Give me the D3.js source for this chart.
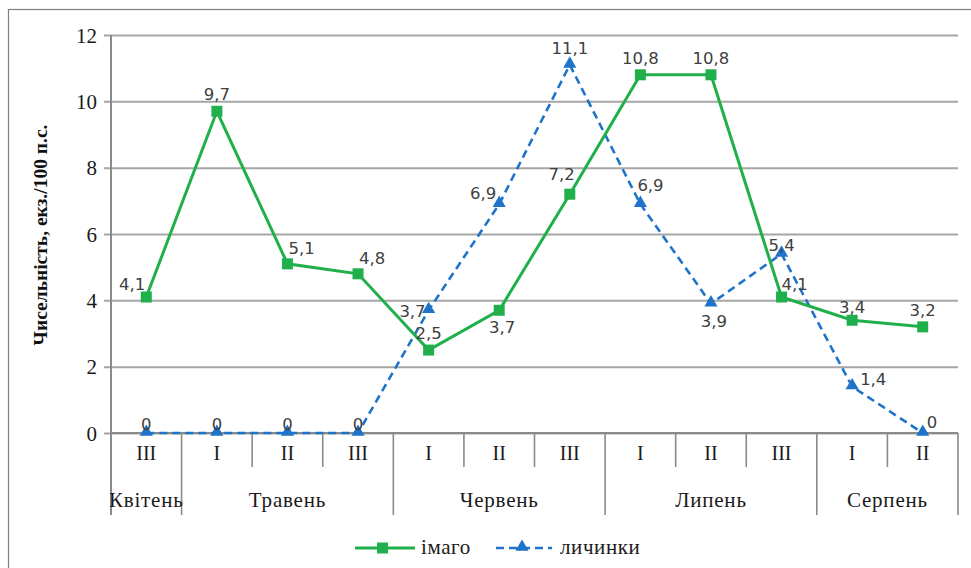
<!DOCTYPE html>
<html>
<head>
<meta charset="utf-8">
<script src="https://cdn.jsdelivr.net/npm/d3@7"></script>
<style>
  html, body { margin: 0; padding: 0; background: #fff; }
  svg { display: block; }
</style>
</head>
<body>
<svg id="chart" width="971" height="568"></svg>
<script>
// Ten-day periods (декади) and the months they belong to
const decades = ["III", "I", "II", "III", "I", "II", "III", "I", "II", "III", "I", "II"];
const months = [
  { name: "Квітень", span: 1 },
  { name: "Травень", span: 3 },
  { name: "Червень", span: 3 },
  { name: "Липень", span: 3 },
  { name: "Серпень", span: 2 }
];
const imago = [4.1, 9.7, 5.1, 4.8, 2.5, 3.7, 7.2, 10.8, 10.8, 4.1, 3.4, 3.2];
const larvae = [0, 0, 0, 0, 3.7, 6.9, 11.1, 6.9, 3.9, 5.4, 1.4, 0];
const yTicks = [0, 2, 4, 6, 8, 10, 12];
// where each value label sits relative to its marker
const imagoLabelSide = ["nw", "n", "ne", "ne", "n", "s", "nwHigh", "n", "n", "neLow", "nLow", "n"];
const larvaeLabelSide = ["nTight", "nTight", "nTight", "nTight", "sw", "w", "n", "neHigh", "s", "nTight", "e", "eLow"];

const svg = d3.select("#chart");
const plotL = 111, plotR = 958, plotT = 35, plotB = 433;
const serif = "'Liberation Serif', 'Times New Roman', serif";
const ink = "#1a1a1a";

// outer frame (runs off the right and bottom edges)
svg.append("rect").attr("x", 8.5).attr("y", 9.5).attr("width", 1000).attr("height", 600)
  .attr("fill", "none").attr("stroke", "#7f7f7f").attr("stroke-width", 1.2);

const x = d3.scaleBand().domain(d3.range(decades.length)).range([plotL, plotR]);
const y = d3.scaleLinear().domain([0, 12]).range([plotB, plotT]);

// horizontal gridlines with tick labels
const yAxis = d3.axisLeft(y).tickValues(yTicks).tickSize(plotR - plotL + 7).tickFormat(d3.format("d"));
const gy = svg.append("g").attr("transform", `translate(${plotR},0)`).call(yAxis);
gy.select(".domain").remove();
gy.selectAll(".tick line").attr("stroke", "#a6a6a6").attr("stroke-width", 2);
gy.selectAll(".tick text")
  .attr("x", -(plotR - plotL) - 14)
  .attr("dy", "0.34em")
  .attr("font-family", serif)
  .attr("font-size", 21).attr("fill", ink);

// vertical axis line, running down through the category rows
svg.append("line").attr("x1", plotL).attr("x2", plotL).attr("y1", plotT).attr("y2", 515)
  .attr("stroke", "#8a8a8a").attr("stroke-width", 2);

// baseline
svg.append("line").attr("x1", plotL).attr("x2", plotR).attr("y1", plotB).attr("y2", plotB)
  .attr("stroke", "#8a8a8a").attr("stroke-width", 2);

// decade separators
const catRows = svg.append("g");
d3.range(1, decades.length + 1).forEach(i => {
  const xx = i < decades.length ? x(i) : plotR;
  catRows.append("line").attr("x1", xx).attr("x2", xx).attr("y1", plotB).attr("y2", 467)
    .attr("stroke", "#8a8a8a").attr("stroke-width", 1.6);
});
// month separators and names
let acc = 0;
months.forEach(m => {
  const start = acc, end = acc + m.span;
  acc = end;
  const x0 = x(start), x1 = end < decades.length ? x(end) : plotR;
  catRows.append("line").attr("x1", x1).attr("x2", x1).attr("y1", 467).attr("y2", 515)
    .attr("stroke", "#8a8a8a").attr("stroke-width", 1.6);
  catRows.append("text").attr("x", (x0 + x1) / 2).attr("y", 507)
    .attr("text-anchor", "middle")
    .attr("font-family", serif).attr("font-size", 21).attr("letter-spacing", 0.8).attr("fill", ink)
    .text(m.name);
});
catRows.selectAll(".dec").data(decades).join("text")
  .attr("x", (d, i) => x(i) + x.bandwidth() / 2).attr("y", 460)
  .attr("text-anchor", "middle")
  .attr("font-family", serif).attr("font-size", 20).attr("fill", ink)
  .text(d => d);

// y-axis title
svg.append("text")
  .attr("transform", "translate(47,235) rotate(-90)")
  .attr("text-anchor", "middle")
  .attr("font-family", serif).attr("font-weight", "bold")
  .attr("font-size", 19.5).attr("fill", "#111")
  .text("Чисельність, екз./100 п.с.");

const green = "#20b04b", blue = "#1f73c8";
const cx = i => x(i) + x.bandwidth() / 2;
const line = d3.line().x((d, i) => cx(i)).y(d => y(d));

// larvae series
svg.append("path").datum(larvae).attr("d", line).attr("fill", "none")
  .attr("stroke", blue).attr("stroke-width", 2.6).attr("stroke-dasharray", "8,5");
const tri = d3.symbol().type(d3.symbolTriangle).size(75);
svg.selectAll(".tri").data(larvae).join("path")
  .attr("transform", (d, i) => `translate(${cx(i)},${y(d) - 1})`)
  .attr("d", tri).attr("fill", blue);

// imago series
svg.append("path").datum(imago).attr("d", line).attr("fill", "none")
  .attr("stroke", green).attr("stroke-width", 3);
svg.selectAll(".sq").data(imago).join("rect")
  .attr("x", (d, i) => cx(i) - 5.5).attr("y", d => y(d) - 5.5)
  .attr("width", 11).attr("height", 11).attr("fill", green);

// value labels: [dx, dy, anchor] for each placement
const fmt = v => String(v).replace(".", ",");
const placements = {
  n: [0, -11, "middle"], nLow: [0, -7, "middle"], nTight: [0, -3, "middle"],
  s: [3, 23, "middle"],
  nw: [-1, -7, "end"], nwHigh: [5, -14, "end"],
  ne: [1, -10, "start"], neLow: [0, -7, "start"], neHigh: [-3, -13, "start"],
  w: [-3, -5, "end"], sw: [-3, 7, "end"],
  e: [8, -2, "start"], eLow: [4, -5, "start"]
};
function labels(values, sides) {
  svg.append("g").selectAll("text").data(values).join("text")
    .attr("x", (d, i) => cx(i) + placements[sides[i]][0])
    .attr("y", (d, i) => y(d) + placements[sides[i]][1])
    .attr("text-anchor", (d, i) => placements[sides[i]][2])
    .attr("font-family", "'DejaVu Sans', Verdana, sans-serif")
    .attr("font-size", 16.5).attr("fill", "#404040")
    .text(d => fmt(d));
}
labels(imago, imagoLabelSide);
labels(larvae, larvaeLabelSide);

// legend
const lg = svg.append("g").attr("transform", "translate(0,548)");
lg.append("line").attr("x1", 355).attr("x2", 415).attr("stroke", green).attr("stroke-width", 3);
lg.append("rect").attr("x", 377).attr("y", -5.5).attr("width", 11).attr("height", 11).attr("fill", green);
lg.append("text").attr("x", 421).attr("y", 6).attr("font-family", serif)
  .attr("font-size", 21).attr("letter-spacing", 0.6).attr("fill", ink).text("імаго");
lg.append("line").attr("x1", 496).attr("x2", 552).attr("stroke", blue).attr("stroke-width", 2.6)
  .attr("stroke-dasharray", "8,5");
lg.append("path").attr("transform", "translate(522,-1)").attr("d", tri).attr("fill", blue);
lg.append("text").attr("x", 560).attr("y", 6).attr("font-family", serif)
  .attr("font-size", 21).attr("letter-spacing", 0.6).attr("fill", ink).text("личинки");
</script>
</body>
</html>
